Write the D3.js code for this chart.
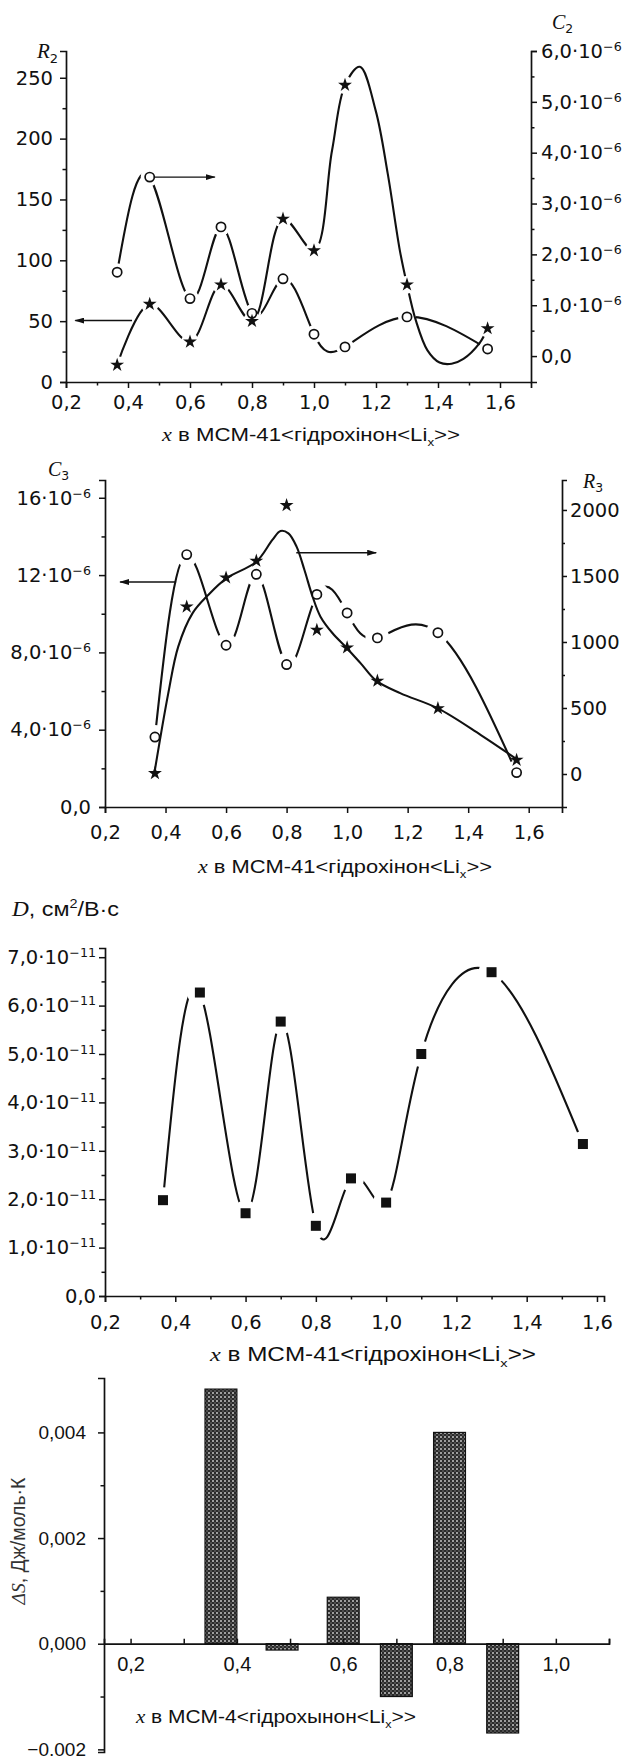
<!DOCTYPE html>
<html>
<head>
<meta charset="utf-8">
<style>
  body { margin: 0; background: #fff; }
  svg { display: block; }
</style>
</head>
<body>
<div id="chart"></div>
<script src="https://d3js.org/d3.v7.min.js"></script>
<script>
// ---- data ----
const xVals = [0.365, 0.47, 0.6, 0.7, 0.8, 0.9, 1.0, 1.1, 1.3, 1.56];

// panel 1: stars -> R2 (left), circles -> C2 (right, x10^-6)
const r2 = [14, 64, 33, 80, 50, 134, 108, 244, 80, 44];
const c2 = [1.65, 3.52, 1.13, 2.54, 0.84, 1.52, 0.43, 0.18, 0.77, 0.14];
// smooth curve drawn through the R2 stars (traced, overshoots past 1.1 and dips near 1.4)
const r2CurveX = [0.365, 0.47, 0.6, 0.7, 0.8, 0.9, 1.0, 1.058, 1.1, 1.148, 1.199, 1.238, 1.277, 1.3, 1.328, 1.366, 1.405, 1.444, 1.482, 1.534, 1.56];
const r2CurveY = [14, 64, 33, 80, 50, 134, 108, 190, 244, 259, 223, 171, 108, 80, 51, 26, 16, 15, 19, 32, 44];

// panel 2: circles -> C3 (left, x10^-6), stars -> R3 (right)
const c3 = [3.62, 13.06, 8.37, 12.04, 7.37, 11.0, 10.04, 8.75, 9.02, 1.78];
const r3 = [5, 1267, 1487, 1614, 2035, 1091, 957, 705, 497, 106];
// smooth curve drawn through the R3 stars
const r3CurveX = [0.363, 0.409, 0.442, 0.489, 0.541, 0.601, 0.7, 0.753, 0.78, 0.806, 0.833, 0.859, 0.886, 0.912, 0.952, 0.998, 1.045, 1.097, 1.177, 1.3, 1.442, 1.561];
const r3CurveY = [5, 611, 965, 1217, 1356, 1482, 1608, 1773, 1841, 1823, 1722, 1545, 1343, 1192, 1066, 957, 838, 705, 611, 497, 295, 111];

// panel 3: D (x10^-11)
const dVals = [1.98, 6.27, 1.71, 5.67, 1.45, 2.43, 1.93, 5.0, 6.69, 3.14];

// panel 4: entropy bars
const dsX = [0.37, 0.485, 0.6, 0.7, 0.8, 0.9];
const dsVals = [0.00482, -0.00012, 0.00088, -0.00100, 0.00400, -0.00169];

// ticks
const xTicks = [0.2, 0.4, 0.6, 0.8, 1.0, 1.2, 1.4, 1.6];
const xTickLabels = ["0,2", "0,4", "0,6", "0,8", "1,0", "1,2", "1,4", "1,6"];
const xMinor = [0.3, 0.5, 0.7, 0.9, 1.1, 1.3, 1.5];

const r2Ticks = [0, 50, 100, 150, 200, 250];
const r2Labels = ["0", "50", "100", "150", "200", "250"];
const r2Minor = [25, 75, 125, 175, 225];
const c2Ticks = [0, 1, 2, 3, 4, 5, 6];
const c2Labels = ["0,0", "1,0·10^−6", "2,0·10^−6", "3,0·10^−6", "4,0·10^−6", "5,0·10^−6", "6,0·10^−6"];
const c2Minor = [0.5, 1.5, 2.5, 3.5, 4.5, 5.5];

const c3Ticks = [0, 4, 8, 12, 16];
const c3Labels = ["0,0", "4,0·10^−6", "8,0·10^−6", "12·10^−6", "16·10^−6"];
const c3Minor = [2, 6, 10, 14];
const r3Ticks = [0, 500, 1000, 1500, 2000];
const r3Labels = ["0", "500", "1000", "1500", "2000"];
const r3Minor = [250, 750, 1250, 1750];

const dTicks = [0, 1, 2, 3, 4, 5, 6, 7];
const dLabels = ["0,0", "1,0·10^−11", "2,0·10^−11", "3,0·10^−11", "4,0·10^−11", "5,0·10^−11", "6,0·10^−11", "7,0·10^−11"];
const dMinor = [0.5, 1.5, 2.5, 3.5, 4.5, 5.5, 6.5];

const dsTicks = [-0.002, 0, 0.002, 0.004];
const dsLabels = ["−0,002", "0,000", "0,002", "0,004"];
const dsMinor = [-0.001, 0.001, 0.003];
const dsXTicks = [0.2, 0.3, 0.4, 0.5, 0.6, 0.7, 0.8, 0.9, 1.0, 1.1];
const dsXLabels = ["0,2", "", "0,4", "", "0,6", "", "0,8", "", "1,0", ""];

// ---- drawing ----
const W = 624, H = 1756;
const ink = "#111";
const sans = "'DejaVu Sans', 'Liberation Sans', sans-serif";
const arial = "'Liberation Sans', Arial, sans-serif";
const serif = "'Liberation Serif', 'DejaVu Serif', serif";

const svg = d3.select("#chart").append("svg")
  .attr("width", W).attr("height", H).attr("viewBox", `0 0 ${W} ${H}`);
const defs = svg.append("defs");

defs.append("marker").attr("id", "arrow")
  .attr("viewBox", "0 0 10 6").attr("refX", 9).attr("refY", 3)
  .attr("markerWidth", 10).attr("markerHeight", 6)
  .attr("markerUnits", "userSpaceOnUse").attr("orient", "auto")
  .append("path").attr("d", "M0,0L10,3L0,6Z").attr("fill", ink);

const pat = defs.append("pattern").attr("id", "dots")
  .attr("patternUnits", "userSpaceOnUse").attr("width", 4).attr("height", 4);
pat.append("rect").attr("width", 4).attr("height", 4).attr("fill", "#2a2a2a");
pat.append("circle").attr("cx", 1).attr("cy", 1).attr("r", 0.95).attr("fill", "#d0d0d0");
pat.append("circle").attr("cx", 3).attr("cy", 3).attr("r", 0.7).attr("fill", "#8e8e8e");

// turn "a^b" tick text into base + superscript
function supText(sel) {
  sel.each(function () {
    const t = d3.select(this);
    const s = t.text();
    if (s.indexOf("^") < 0) return;
    const [base, exp] = s.split("^");
    t.text(null);
    t.append("tspan").text(base);
    t.append("tspan").attr("dy", "-0.55em").attr("font-size", "0.65em").text(exp);
  });
}

function addAxis(axisFn, scale, tx, ty, ticks, labels, o) {
  const ax = axisFn(scale).tickValues(ticks).tickSizeOuter(0)
    .tickSize(o.size).tickPadding(o.pad)
    .tickFormat((d, i) => labels ? labels[i] : "");
  const g = svg.append("g").attr("transform", `translate(${tx},${ty})`).call(ax);
  g.attr("font-family", o.family || sans).attr("font-size", o.fs || 19.5);
  if (o.noDomain) g.select(".domain").remove();
  else g.select(".domain").attr("stroke", ink).attr("stroke-width", 1.7);
  g.selectAll(".tick line").attr("stroke", ink).attr("stroke-width", 1.5);
  g.selectAll(".tick text").attr("fill", ink).call(supText);
  return g;
}

function gapMask(id, pts, r) {
  const m = defs.append("mask").attr("id", id).attr("maskUnits", "userSpaceOnUse")
    .attr("x", 0).attr("y", 0).attr("width", W).attr("height", H);
  m.append("rect").attr("width", W).attr("height", H).attr("fill", "#fff");
  m.selectAll("circle").data(pts).join("circle")
    .attr("cx", d => d[0]).attr("cy", d => d[1]).attr("r", r).attr("fill", "#000");
}

function curvePath(xs, ys, x, y, curve, maskId) {
  const line = d3.line().x((d, i) => x(xs[i])).y(d => y(d)).curve(curve);
  svg.append("path").attr("d", line(ys)).attr("fill", "none")
    .attr("stroke", ink).attr("stroke-width", 2.1).attr("stroke-linejoin", "round")
    .attr("mask", maskId ? `url(#${maskId})` : null);
}

function stars(xs, ys, x, y) {
  svg.append("g").selectAll("path").data(ys).join("path")
    .attr("transform", (d, i) => `translate(${x(xs[i])},${y(d)})`)
    .attr("d", d3.symbol().type(d3.symbolStar).size(60)).attr("fill", ink);
}

function rings(xs, ys, x, y) {
  svg.append("g").selectAll("circle").data(ys).join("circle")
    .attr("cx", (d, i) => x(xs[i])).attr("cy", d => y(d)).attr("r", 4.6)
    .attr("fill", "#fff").attr("stroke", ink).attr("stroke-width", 1.7);
}

function squares(xs, ys, x, y) {
  svg.append("g").selectAll("rect").data(ys).join("rect")
    .attr("x", (d, i) => x(xs[i]) - 5).attr("y", d => y(d) - 5)
    .attr("width", 10).attr("height", 10).attr("fill", ink);
}

function arrow(x, y, x0, x1, v) {
  svg.append("line").attr("x1", x(x0)).attr("x2", x(x1)).attr("y1", y(v)).attr("y2", y(v))
    .attr("stroke", ink).attr("stroke-width", 1.4).attr("marker-end", "url(#arrow)");
}

function varLabel(x, y, letter, sub, fs) {
  const t = svg.append("text").attr("x", x).attr("y", y).attr("font-size", fs).attr("fill", ink);
  t.append("tspan").attr("font-family", serif).attr("font-style", "italic").text(letter);
  t.append("tspan").attr("font-family", sans).attr("font-size", fs * 0.62).attr("dy", fs * 0.22).text(sub);
}

function xTitle(cx, y, mid, fs, len) {
  const t = svg.append("text").attr("x", cx).attr("y", y).attr("text-anchor", "middle")
    .attr("font-size", fs).attr("font-family", arial).attr("fill", ink)
    .attr("textLength", len).attr("lengthAdjust", "spacingAndGlyphs");
  t.append("tspan").attr("font-family", serif).attr("font-style", "italic").text("x");
  t.append("tspan").text(" в " + mid + "<Li");
  t.append("tspan").attr("font-size", fs * 0.6).attr("dy", fs * 0.3).text("x");
  t.append("tspan").attr("dy", -fs * 0.3).text(">>");
}

// ===== panel 1 =====
{
  const x = d3.scaleLinear().domain([0.2, 1.7]).range([66, 531]);
  const yL = d3.scaleLinear().domain([0, 272]).range([382, 51]);
  const yR = d3.scaleLinear().domain([-0.51, 6.0]).range([382, 51]);

  addAxis(d3.axisBottom, x, 0, 382, xTicks, xTickLabels, { size: 6, pad: 7 });
  addAxis(d3.axisBottom, x, 0, 382, xMinor, null, { size: 3.5, pad: 0, noDomain: true });
  addAxis(d3.axisLeft, yL, 66, 0, r2Ticks, r2Labels, { size: 6, pad: 7 });
  addAxis(d3.axisLeft, yL, 66, 0, r2Minor, null, { size: 3.5, pad: 0, noDomain: true });
  addAxis(d3.axisRight, yR, 531, 0, c2Ticks, c2Labels, { size: 6, pad: 4 });
  addAxis(d3.axisRight, yR, 531, 0, c2Minor, null, { size: 3.5, pad: 0, noDomain: true });

  gapMask("m1s", r2.map((d, i) => [x(xVals[i]), yL(d)]), 9);
  gapMask("m1c", c2.map((d, i) => [x(xVals[i]), yR(d)]), 9);
  curvePath(r2CurveX, r2CurveY, x, yL, d3.curveCatmullRom, "m1s");
  curvePath(xVals, c2, x, yR, d3.curveNatural, "m1c");
  arrow(x, yR, 0.47, 0.68, 3.52);
  arrow(x, yL, 0.413, 0.23, 50.5);
  rings(xVals, c2, x, yR);
  stars(xVals, r2, x, yL);

  varLabel(37, 58, "R", "2", 21);
  varLabel(552, 29, "C", "2", 20);
  xTitle(311, 441, "MCM-41<гідрохінон", 18, 298);
}

// ===== panel 2 =====
{
  const x = d3.scaleLinear().domain([0.2, 1.71]).range([105, 562]);
  const yL = d3.scaleLinear().domain([0, 16.92]).range([807, 480]);
  const yR = d3.scaleLinear().domain([-250, 2227]).range([807, 480]);

  addAxis(d3.axisBottom, x, 0, 807, xTicks, xTickLabels, { size: 6, pad: 12 });
  addAxis(d3.axisLeft, yL, 105, 0, c3Ticks, c3Labels, { size: 6, pad: 8 });
  addAxis(d3.axisLeft, yL, 105, 0, c3Minor, null, { size: 3.5, pad: 0, noDomain: true });
  addAxis(d3.axisRight, yR, 562, 0, r3Ticks, r3Labels, { size: 5, pad: 3 });
  addAxis(d3.axisRight, yR, 562, 0, r3Minor, null, { size: 3, pad: 0, noDomain: true });

  gapMask("m2c", c3.map((d, i) => [x(xVals[i]), yL(d)]), 12);
  curvePath(xVals, c3, x, yL, d3.curveNatural, "m2c");
  curvePath(r3CurveX, r3CurveY, x, yR, d3.curveCatmullRom, null);
  arrow(x, yL, 0.435, 0.25, 11.64);
  arrow(x, yR, 0.832, 1.096, 1676);
  rings(xVals, c3, x, yL);
  stars(xVals, r3, x, yR);

  varLabel(48, 476, "C", "3", 20);
  varLabel(583, 488, "R", "3", 20);
  xTitle(345, 873, "MCM-41<гідрохінон", 18, 294);
}

// ===== panel 3 =====
{
  const x = d3.scaleLinear().domain([0.2, 1.62]).range([105, 604]);
  const y = d3.scaleLinear().domain([0, 7.19]).range([1296, 948]);

  addAxis(d3.axisBottom, x, 0, 1296, xTicks, xTickLabels, { size: 6, pad: 13 });
  addAxis(d3.axisBottom, x, 0, 1296, xMinor, null, { size: 3.5, pad: 0, noDomain: true });
  addAxis(d3.axisLeft, y, 105, 0, dTicks, dLabels, { size: 6, pad: 3 });
  addAxis(d3.axisLeft, y, 105, 0, dMinor, null, { size: 3.5, pad: 0, noDomain: true });

  gapMask("m3", dVals.map((d, i) => [x(xVals[i]), y(d)]), 13);
  curvePath(xVals, dVals, x, y, d3.curveNatural, "m3");
  squares(xVals, dVals, x, y);

  const t = svg.append("text").attr("x", 12).attr("y", 916).attr("font-size", 21)
    .attr("font-family", arial).attr("fill", ink)
    .attr("textLength", 107).attr("lengthAdjust", "spacingAndGlyphs");
  t.append("tspan").attr("font-family", serif).attr("font-style", "italic").text("D");
  t.append("tspan").text(", см");
  t.append("tspan").attr("font-size", 13).attr("dy", -8).text("2");
  t.append("tspan").attr("dy", 8).text("/В·с");

  xTitle(373, 1361, "MCM-41<гідрохінон", 19.5, 326);
}

// ===== panel 4 =====
{
  const x = d3.scaleLinear().domain([0.15, 1.1]).range([104, 609]);
  const y = d3.scaleLinear().domain([-0.00205, 0.00503]).range([1752, 1378]);
  const bw = x(0.06) - x(0);

  svg.append("g").selectAll("rect").data(dsVals).join("rect")
    .attr("x", (d, i) => x(dsX[i]) - bw / 2)
    .attr("y", d => y(Math.max(d, 0)))
    .attr("width", bw)
    .attr("height", d => Math.abs(y(d) - y(0)))
    .attr("fill", "url(#dots)").attr("stroke", ink).attr("stroke-width", 1.2);

  addAxis(d3.axisBottom, x, 0, y(0), dsXTicks, dsXLabels, { size: -5, pad: 13, family: arial, fs: 20 });
  addAxis(d3.axisLeft, y, 104, 0, dsTicks, dsLabels, { size: 6, pad: 12, family: arial, fs: 19 });
  addAxis(d3.axisLeft, y, 104, 0, dsMinor, null, { size: 3.5, pad: 0, noDomain: true });

  const yl = svg.append("text").attr("transform", "translate(25,1541) rotate(-90)")
    .attr("text-anchor", "middle").attr("font-size", 19.5).attr("font-family", arial)
    .attr("fill", "#333");
  yl.append("tspan").attr("font-family", serif).attr("font-style", "italic").text("ΔS");
  yl.append("tspan").text(", Дж/моль·К");

  xTitle(276, 1723, "MCM-4<гідрохынон", 18, 280);
}
</script>
</body>
</html>
